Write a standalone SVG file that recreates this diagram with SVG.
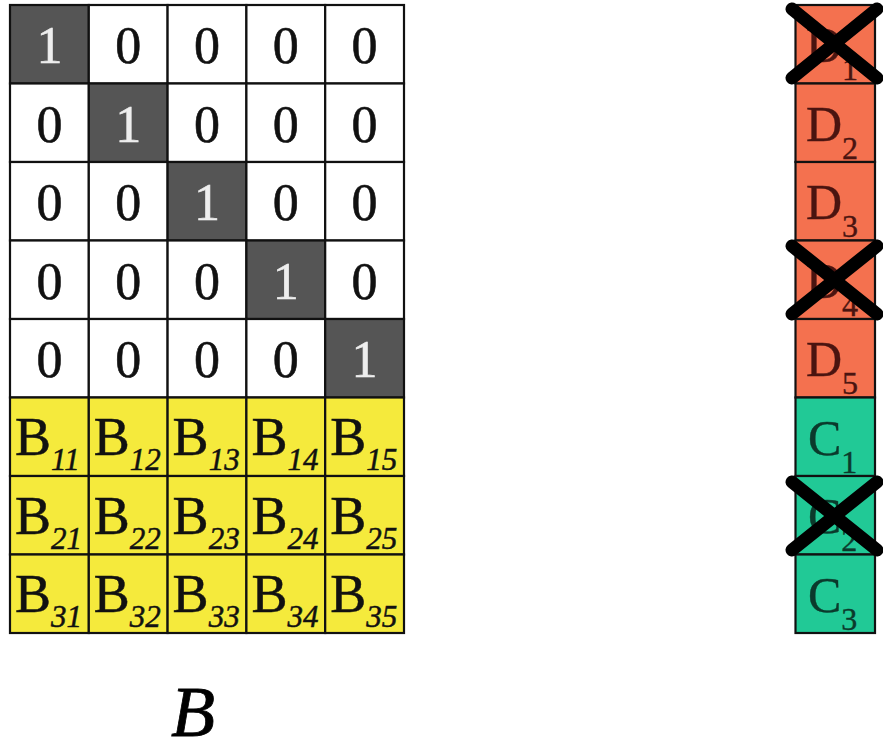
<svg xmlns="http://www.w3.org/2000/svg" width="883" height="755" viewBox="0 0 883 755">
<style>
.c{stroke:#111;stroke-width:2.2}
.w{fill:#fff}
.k{fill:#555}
.y{fill:#f5ea3c}
.o{fill:#f4714f}
.g{fill:#21c996}
.t{font-family:"Liberation Serif","Times New Roman",serif;font-size:52px;text-anchor:middle;stroke-width:0.6}
.b{font-family:"Liberation Serif","Times New Roman",serif;font-size:54px;fill:#111;stroke:#111;stroke-width:0.5}
.s{font-family:"Liberation Serif","Times New Roman",serif;font-size:31px;font-style:italic}
.d{font-family:"Liberation Serif","Times New Roman",serif;font-size:50px;stroke-width:0.4}
.n{font-size:32px}
.x{stroke:#000;stroke-width:13;stroke-linecap:round}
</style>
<rect width="883" height="755" fill="#fff"/>
<g id="identity">
<rect class="c k" x="10" y="5" width="78.8" height="78.5"/><rect class="c w" x="88.8" y="5" width="78.8" height="78.5"/><rect class="c w" x="167.6" y="5" width="78.8" height="78.5"/><rect class="c w" x="246.4" y="5" width="78.8" height="78.5"/><rect class="c w" x="325.2" y="5" width="78.8" height="78.5"/>
<rect class="c w" x="10" y="83.5" width="78.8" height="78.5"/><rect class="c k" x="88.8" y="83.5" width="78.8" height="78.5"/><rect class="c w" x="167.6" y="83.5" width="78.8" height="78.5"/><rect class="c w" x="246.4" y="83.5" width="78.8" height="78.5"/><rect class="c w" x="325.2" y="83.5" width="78.8" height="78.5"/>
<rect class="c w" x="10" y="162" width="78.8" height="78.5"/><rect class="c w" x="88.8" y="162" width="78.8" height="78.5"/><rect class="c k" x="167.6" y="162" width="78.8" height="78.5"/><rect class="c w" x="246.4" y="162" width="78.8" height="78.5"/><rect class="c w" x="325.2" y="162" width="78.8" height="78.5"/>
<rect class="c w" x="10" y="240.5" width="78.8" height="78.5"/><rect class="c w" x="88.8" y="240.5" width="78.8" height="78.5"/><rect class="c w" x="167.6" y="240.5" width="78.8" height="78.5"/><rect class="c k" x="246.4" y="240.5" width="78.8" height="78.5"/><rect class="c w" x="325.2" y="240.5" width="78.8" height="78.5"/>
<rect class="c w" x="10" y="319" width="78.8" height="78.5"/><rect class="c w" x="88.8" y="319" width="78.8" height="78.5"/><rect class="c w" x="167.6" y="319" width="78.8" height="78.5"/><rect class="c w" x="246.4" y="319" width="78.8" height="78.5"/><rect class="c k" x="325.2" y="319" width="78.8" height="78.5"/>
<g class="t" fill="#111" stroke="#111">
<text x="128.2" y="63">0</text><text x="207" y="63">0</text><text x="285.8" y="63">0</text><text x="364.6" y="63">0</text>
<text x="49.4" y="141.5">0</text><text x="207" y="141.5">0</text><text x="285.8" y="141.5">0</text><text x="364.6" y="141.5">0</text>
<text x="49.4" y="220">0</text><text x="128.2" y="220">0</text><text x="285.8" y="220">0</text><text x="364.6" y="220">0</text>
<text x="49.4" y="298.5">0</text><text x="128.2" y="298.5">0</text><text x="207" y="298.5">0</text><text x="364.6" y="298.5">0</text>
<text x="49.4" y="377">0</text><text x="128.2" y="377">0</text><text x="207" y="377">0</text><text x="285.8" y="377">0</text>
</g>
<g class="t" fill="#eee" stroke="#eee">
<text x="49.4" y="63">1</text><text x="128.2" y="141.5">1</text><text x="207" y="220">1</text><text x="285.8" y="298.5">1</text><text x="364.6" y="377">1</text>
</g>
</g>
<g id="blockB">
<rect class="c y" x="10" y="397.5" width="78.8" height="78.5"/><rect class="c y" x="88.8" y="397.5" width="78.8" height="78.5"/><rect class="c y" x="167.6" y="397.5" width="78.8" height="78.5"/><rect class="c y" x="246.4" y="397.5" width="78.8" height="78.5"/><rect class="c y" x="325.2" y="397.5" width="78.8" height="78.5"/>
<rect class="c y" x="10" y="476" width="78.8" height="78.5"/><rect class="c y" x="88.8" y="476" width="78.8" height="78.5"/><rect class="c y" x="167.6" y="476" width="78.8" height="78.5"/><rect class="c y" x="246.4" y="476" width="78.8" height="78.5"/><rect class="c y" x="325.2" y="476" width="78.8" height="78.5"/>
<rect class="c y" x="10" y="554.5" width="78.8" height="78.5"/><rect class="c y" x="88.8" y="554.5" width="78.8" height="78.5"/><rect class="c y" x="167.6" y="554.5" width="78.8" height="78.5"/><rect class="c y" x="246.4" y="554.5" width="78.8" height="78.5"/><rect class="c y" x="325.2" y="554.5" width="78.8" height="78.5"/>
<g class="b">
<text x="15" y="455">B<tspan class="s" dy="15">11</tspan></text>
<text x="93.8" y="455">B<tspan class="s" dy="15">12</tspan></text>
<text x="172.6" y="455">B<tspan class="s" dy="15">13</tspan></text>
<text x="251.4" y="455">B<tspan class="s" dy="15">14</tspan></text>
<text x="330.2" y="455">B<tspan class="s" dy="15">15</tspan></text>
<text x="15" y="533.5">B<tspan class="s" dy="15">21</tspan></text>
<text x="93.8" y="533.5">B<tspan class="s" dy="15">22</tspan></text>
<text x="172.6" y="533.5">B<tspan class="s" dy="15">23</tspan></text>
<text x="251.4" y="533.5">B<tspan class="s" dy="15">24</tspan></text>
<text x="330.2" y="533.5">B<tspan class="s" dy="15">25</tspan></text>
<text x="15" y="612">B<tspan class="s" dy="15">31</tspan></text>
<text x="93.8" y="612">B<tspan class="s" dy="15">32</tspan></text>
<text x="172.6" y="612">B<tspan class="s" dy="15">33</tspan></text>
<text x="251.4" y="612">B<tspan class="s" dy="15">34</tspan></text>
<text x="330.2" y="612">B<tspan class="s" dy="15">35</tspan></text>
</g>
</g>
<g id="vector">
<rect class="c o" x="795.5" y="5" width="79.5" height="78.5"/>
<rect class="c o" x="795.5" y="83.5" width="79.5" height="78.5"/>
<rect class="c o" x="795.5" y="162" width="79.5" height="78.5"/>
<rect class="c o" x="795.5" y="240.5" width="79.5" height="78.5"/>
<rect class="c o" x="795.5" y="319" width="79.5" height="78.5"/>
<rect class="c g" x="795.5" y="397.5" width="79.5" height="78.5"/>
<rect class="c g" x="795.5" y="476" width="79.5" height="78.5"/>
<rect class="c g" x="795.5" y="554.5" width="79.5" height="78.5"/>
<g class="d" fill="#4a1410" stroke="#4a1410">
<text x="806" y="62">D<tspan class="n" dy="18">1</tspan></text>
<text x="806" y="140.5">D<tspan class="n" dy="18">2</tspan></text>
<text x="806" y="219">D<tspan class="n" dy="18">3</tspan></text>
<text x="806" y="297.5">D<tspan class="n" dy="18">4</tspan></text>
<text x="806" y="376">D<tspan class="n" dy="18">5</tspan></text>
</g>
<g class="d" fill="#0b3a2c" stroke="#0b3a2c">
<text x="808" y="454.5">C<tspan class="n" dy="18">1</tspan></text>
<text x="808" y="533">C<tspan class="n" dy="18">2</tspan></text>
<text x="808" y="611.5">C<tspan class="n" dy="18">3</tspan></text>
</g>
<line class="x" x1="792" y1="9" x2="877" y2="78"/><line class="x" x1="877" y1="9" x2="792" y2="78"/>
<line class="x" x1="792" y1="246" x2="877" y2="314"/><line class="x" x1="877" y1="246" x2="792" y2="314"/>
<line class="x" x1="792" y1="482" x2="877" y2="550"/><line class="x" x1="877" y1="482" x2="792" y2="550"/>
</g>
<text x="171" y="736" font-family="Liberation Serif,'Times New Roman',serif" font-style="italic" font-size="72" fill="#000" stroke="#000" stroke-width="0.8">B</text>
</svg>
